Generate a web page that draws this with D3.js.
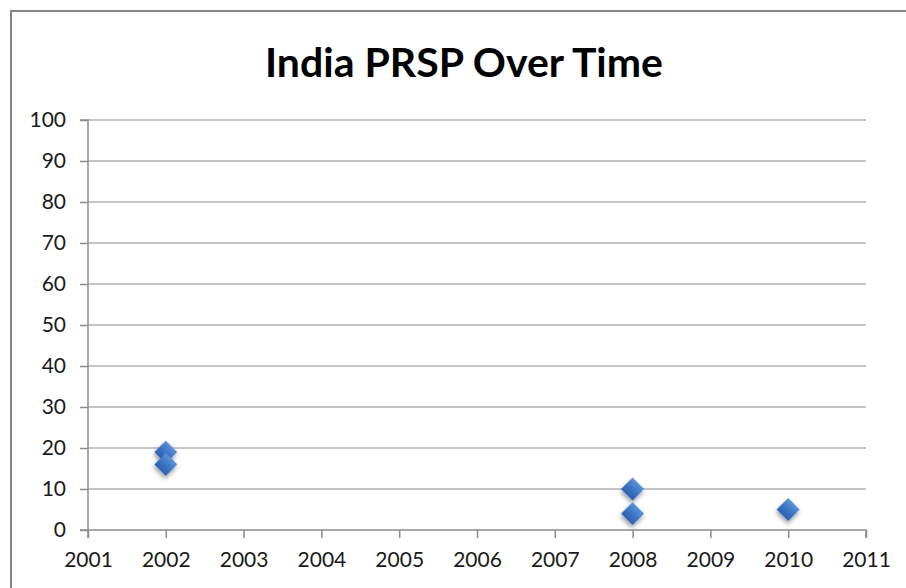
<!DOCTYPE html>
<html>
<head>
<meta charset="utf-8">
<script src="https://cdn.jsdelivr.net/npm/d3@7"></script>
<style>
  html, body { margin: 0; padding: 0; background: #fff; }
  svg { display: block; }
</style>
</head>
<body>
<svg id="chart" width="906" height="588"></svg>
<script>
// Scatter of India PRSP scores by year
const chartTitle = "India PRSP Over Time";
const years = [2002, 2002, 2008, 2008, 2010];
const scores = [19, 16, 10, 4, 5];
const xTicks = [2001, 2002, 2003, 2004, 2005, 2006, 2007, 2008, 2009, 2010, 2011];
const yTicks = [0, 10, 20, 30, 40, 50, 60, 70, 80, 90, 100];

const svg = d3.select("#chart");
const font = "Lato, 'Open Sans', 'Liberation Sans', sans-serif";

const x = d3.scaleLinear().domain([2001, 2011]).range([88, 866]);
const y = d3.scaleLinear().domain([0, 100]).range([530, 120]);

// defs: marker gradient and soft shadow
const defs = svg.append("defs");
const grad = defs.append("linearGradient")
  .attr("id", "mk").attr("x1", 0).attr("y1", 0).attr("x2", 0).attr("y2", 1);
grad.append("stop").attr("offset", "0%").attr("stop-color", "#5b90d8");
grad.append("stop").attr("offset", "55%").attr("stop-color", "#3b74c4");
grad.append("stop").attr("offset", "100%").attr("stop-color", "#2c62ae");
const flt = defs.append("filter").attr("id", "sh")
  .attr("x", "-50%").attr("y", "-50%").attr("width", "200%").attr("height", "200%");
flt.append("feDropShadow").attr("dx", 1.5).attr("dy", 2.5)
  .attr("stdDeviation", 2).attr("flood-color", "#000").attr("flood-opacity", 0.4);

// outer frame of the chart
svg.append("rect")
  .attr("x", 11).attr("y", 11).attr("width", 1000).attr("height", 700)
  .attr("fill", "#fff").attr("stroke", "#868686").attr("stroke-width", 2);

// title
svg.append("text")
  .attr("x", 464).attr("y", 77)
  .attr("text-anchor", "middle")
  .attr("font-family", font).attr("font-weight", "bold")
  .attr("font-size", 41).attr("fill", "#000")
  .text(chartTitle);

// horizontal gridlines
svg.append("g")
  .selectAll("line").data(yTicks.filter(d => d > 0)).join("line")
  .attr("x1", x(2001)).attr("x2", x(2011))
  .attr("y1", d => y(d)).attr("y2", d => y(d))
  .attr("stroke", "#8c8c8c").attr("stroke-width", 1.2);

// y axis
const yAxis = svg.append("g")
  .attr("transform", `translate(${x(2001)},0)`)
  .call(d3.axisLeft(y).tickValues(yTicks).tickSize(8).tickPadding(14).tickFormat(d3.format("d")));

// x axis
const xAxis = svg.append("g")
  .attr("transform", `translate(0,${y(0)})`)
  .call(d3.axisBottom(x).tickValues(xTicks).tickSize(8).tickPadding(14).tickFormat(d3.format("d")));

[yAxis, xAxis].forEach(g => {
  g.select(".domain").attr("stroke", "#8c8c8c").attr("stroke-width", 1.5);
  g.selectAll(".tick line").attr("stroke", "#8c8c8c").attr("stroke-width", 1.5);
  g.selectAll(".tick text")
    .attr("font-family", font).attr("font-size", 21).attr("fill", "#1a1a1a");
});
xAxis.select(".domain").attr("d", `M${x(2001)},8V0H${x(2011)}V8`);
yAxis.select(".domain").attr("d", `M-8,${y(100)}H0V${y(0)}H-8`);

// diamond markers
svg.append("g")
  .selectAll("path").data(years.map((yr, i) => ({ yr, v: scores[i] }))).join("path")
  .attr("transform", d => `translate(${x(d.yr)},${y(d.v)}) rotate(45)`)
  .attr("d", d3.symbol().type(d3.symbolSquare).size(265))
  .attr("fill", "url(#mk)")
  .attr("filter", "url(#sh)");
</script>
</body>
</html>
